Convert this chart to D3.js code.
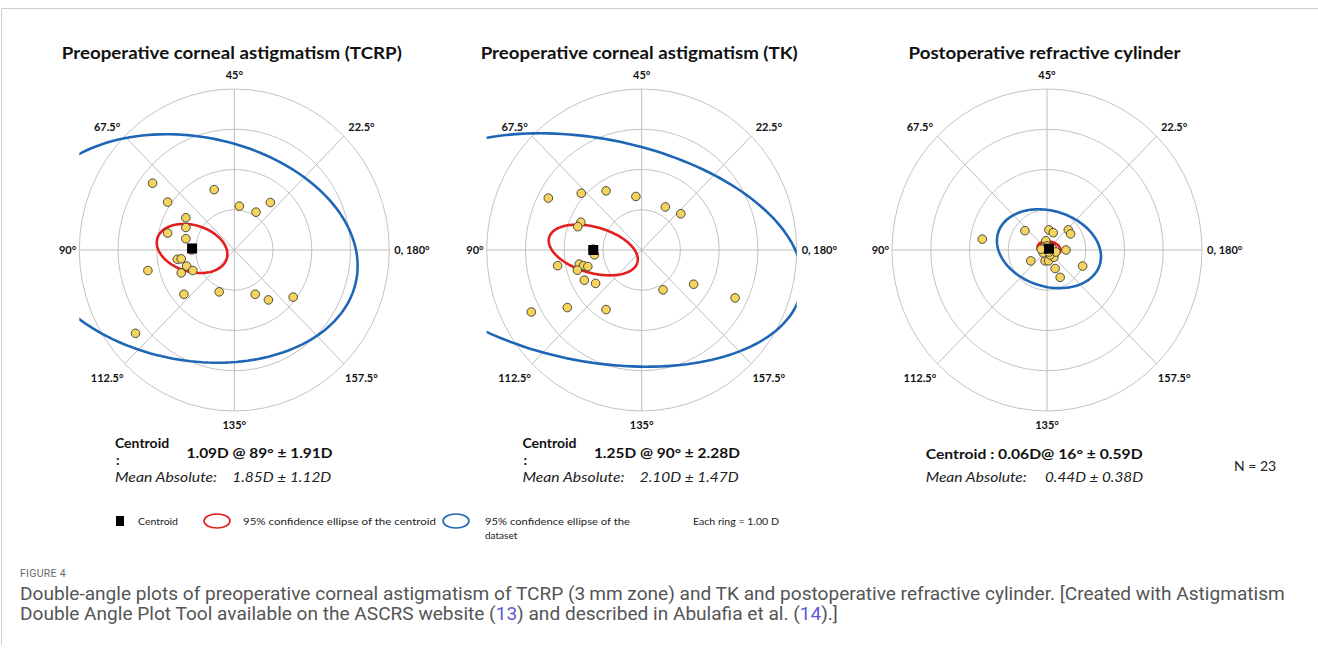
<!DOCTYPE html>
<html>
<head>
<meta charset="utf-8">
<script src="https://cdn.jsdelivr.net/npm/d3@7"></script>
<style>
  body { margin: 0; background: #fff; }
  svg { display: block; }
</style>
</head>
<body>
<svg id="fig" width="1318" height="653"></svg>
<script>
// ---- data (double-angle coordinates in dioptres, x = right, y = up) ----
const plotTitles = ['Preoperative corneal astigmatism (TCRP)', 'Preoperative corneal astigmatism (TK)', 'Postoperative refractive cylinder'];
const axisLabels = ['0, 180°', '22.5°', '45°', '67.5°', '90°', '112.5°', '135°', '157.5°'];
const ringValues = [1, 2, 3, 4];

const tcrpX = [-2.11, -0.52, -1.72, 0.13, 0.93, 0.56, -1.25, -1.25, -1.72, -1.25, -1.47, -1.37, -1.23, -1.07, -1.37, -2.23, -1.30, -0.39, 0.54, 0.88, 1.52, -2.55, -1.10];
const tcrpY = [1.66, 1.50, 1.19, 1.09, 1.18, 0.94, 0.80, 0.56, 0.42, 0.28, -0.23, -0.22, -0.40, -0.51, -0.57, -0.51, -1.10, -1.04, -1.10, -1.24, -1.17, -2.07, 0.00];

const tkX = [-2.41, -1.56, -0.92, -0.15, 0.61, 1.01, -1.57, -1.65, -1.22, -2.17, -1.61, -1.50, -1.39, -1.66, -1.48, -1.19, 0.55, 1.34, 2.41, -2.85, -1.92, -0.92, -1.25];
const tkY = [1.29, 1.41, 1.47, 1.33, 1.07, 0.90, 0.69, 0.58, -0.12, -0.39, -0.35, -0.39, -0.41, -0.50, -0.75, -0.83, -0.99, -0.85, -1.19, -1.54, -1.43, -1.48, 0.02];

const postX = [-0.57, 0.05, 0.16, 0.55, 0.61, -0.03, 0.49, -0.42, -0.05, 0.04, 0.18, 0.21, 0.34, 0.92, -1.67, -0.08, 0.13, 0.08, -0.10, 0.23, 0.00, 0.05, -0.15];
const postY = [0.48, 0.50, 0.43, 0.50, 0.40, 0.23, 0.00, -0.27, -0.27, -0.27, -0.18, -0.46, -0.68, -0.40, 0.27, 0.07, 0.05, -0.12, -0.07, -0.05, 0.10, -0.05, 0.02];

const centroidMag = [1.09, 1.25, 0.06];
const centroidAxis = [89, 90, 16];
// 95% confidence ellipse of the centroid (semi-axes in D, rotation in deg)
const centEllA = [0.93, 1.18, 0.30];
const centEllB = [0.58, 0.57, 0.18];
const centEllRot = [-15, -15, -10];
// 95% confidence ellipse of the dataset
const dataEllA = [4.31, 5.46, 1.37];
const dataEllB = [2.78, 2.77, 0.94];
const dataEllRot = [-10, -10.5, -16];

const centroidValue = ['1.09D @ 89°  ± 1.91D', '1.25D @ 90°  ± 2.28D', 'Centroid : 0.06D@  16°  ± 0.59D'];
const meanAbsValue = ['1.85D ± 1.12D', '2.10D ± 1.47D', '0.44D ± 0.38D'];

// ---- layout ----
const svg = d3.select('#fig');
const FONT = 'Lato, "Open Sans", sans-serif';
const centersX = [234.3, 641.7, 1047];
const centerY = 250;
const RX = 155, RY = 161;

function fit(sel, w) {
    sel.attr('textLength', w).attr('lengthAdjust', 'spacingAndGlyphs');
    return sel;
}

// frame
svg.append('path')
    .attr('d', 'M1.5,645 V8.5 H1318')
    .attr('fill', 'none')
    .attr('stroke', '#cfcfcf');

const seriesX = [tcrpX, tkX, postX];
const seriesY = [tcrpY, tkY, postY];
const titleW = [340, 317, 272];

for (let p = 0; p < 3; p++) {
    let cx = centersX[p];
    let x = d3.scaleLinear().domain([-4, 4]).range([cx - RX, cx + RX]);
    let y = d3.scaleLinear().domain([-4, 4]).range([centerY + RY, centerY - RY]);
    let g = svg.append('g');

    // title
    fit(g.append('text')
        .attr('x', cx - 2.5)
        .attr('y', 59)
        .attr('text-anchor', 'middle')
        .style('font', `bold 17px ${FONT}`)
        .style('fill', '#111')
        .text(plotTitles[p]), titleW[p]);

    // rings
    g.selectAll('.ring')
        .data(ringValues)
        .enter().append('ellipse')
        .attr('cx', x(0))
        .attr('cy', y(0))
        .attr('rx', d => x(d) - x(0))
        .attr('ry', d => y(0) - y(d))
        .attr('fill', 'none')
        .attr('stroke', '#c4c4c4')
        .attr('stroke-width', 1);

    // spokes (every 45 deg of double angle)
    g.selectAll('.spoke')
        .data([0, 45, 90, 135])
        .enter().append('line')
        .attr('x1', d => x(4 * Math.cos(d * Math.PI / 180)))
        .attr('y1', d => y(4 * Math.sin(d * Math.PI / 180)))
        .attr('x2', d => x(-4 * Math.cos(d * Math.PI / 180)))
        .attr('y2', d => y(-4 * Math.sin(d * Math.PI / 180)))
        .attr('stroke', '#bdbdbd')
        .attr('stroke-width', 1);

    // axis labels
    axisLabels.forEach(function (lab, i) {
        let a = i * 45 * Math.PI / 180;
        let lx, ly, anchor = 'middle';
        if (i === 0) { lx = x(4) + 5; ly = y(0); anchor = 'start'; }
        else if (i === 4) { lx = x(-4) - 3; ly = y(0); anchor = 'end'; }
        else if (i === 2) { lx = x(0); ly = y(4) - 14; }
        else if (i === 6) { lx = x(0); ly = y(-4) + 14; }
        else {
            lx = x(4 * 1.16 * Math.cos(a));
            ly = y(4 * 1.08 * Math.sin(a)) + (i > 4 ? 5 : 0);
        }
        g.append('text')
            .attr('x', lx)
            .attr('y', ly)
            .attr('dy', '0.35em')
            .attr('text-anchor', anchor)
            .style('font', `bold 11px ${FONT}`)
            .style('fill', '#111')
            .text(lab);
    });

    // clipping to the plot area (horizontal extent of the outer ring)
    let clipId = 'clip' + p;
    svg.append('clipPath').attr('id', clipId)
        .append('rect')
        .attr('x', x(-4))
        .attr('y', 60)
        .attr('width', x(4) - x(-4))
        .attr('height', 380);

    let cAng = 2 * centroidAxis[p] * Math.PI / 180;
    let ccx = centroidMag[p] * Math.cos(cAng);
    let ccy = centroidMag[p] * Math.sin(cAng);

    function ellipsePath(a, b, rotDeg) {
        let r = rotDeg * Math.PI / 180;
        let pts = d3.range(0, 181).map(function (k) {
            let t = k / 180 * 2 * Math.PI;
            let u = a * Math.cos(t), v = b * Math.sin(t);
            return [ccx + u * Math.cos(r) - v * Math.sin(r), ccy + u * Math.sin(r) + v * Math.cos(r)];
        });
        return d3.line().x(d => x(d[0])).y(d => y(d[1]))(pts);
    }

    let clipped = g.append('g').attr('clip-path', `url(#${clipId})`);
    clipped.append('path')
        .attr('d', ellipsePath(dataEllA[p], dataEllB[p], dataEllRot[p]))
        .attr('fill', 'none')
        .attr('stroke', '#1f66b5')
        .attr('stroke-width', 2.6);
    clipped.append('path')
        .attr('d', ellipsePath(centEllA[p], centEllB[p], centEllRot[p]))
        .attr('fill', 'none')
        .attr('stroke', '#e41d1d')
        .attr('stroke-width', 2.6);

    // data points
    let pts = seriesX[p].map((v, i) => ({ x: v, y: seriesY[p][i] }));
    g.selectAll('.pt')
        .data(pts)
        .enter().append('circle')
        .attr('cx', d => x(d.x))
        .attr('cy', d => y(d.y))
        .attr('r', 4.3)
        .attr('fill', '#f5d45c')
        .attr('stroke', '#3a3a3a')
        .attr('stroke-width', 0.9);

    // centroid
    g.append('rect')
        .attr('x', x(ccx) - 5)
        .attr('y', y(ccy) - 5)
        .attr('width', 10)
        .attr('height', 10)
        .attr('fill', '#000');

    // centroid / mean absolute text
    if (p < 2) {
        let tx = cx - 119.3;
        g.append('text').attr('x', tx).attr('y', 447.5)
            .style('font', `bold 14px ${FONT}`).style('fill', '#111').text('Centroid');
        g.append('text').attr('x', tx + 1).attr('y', 465)
            .style('font', `bold 14px ${FONT}`).style('fill', '#111').text(':');
        fit(g.append('text').attr('x', cx - 47.8).attr('y', 457.5)
            .style('font', `bold 14px ${FONT}`).style('fill', '#111').text(centroidValue[p]), 146);
        fit(g.append('text').attr('x', tx).attr('y', 482)
            .style('font', `italic 14px ${FONT}`).style('fill', '#222').text('Mean Absolute:'), 102);
        fit(g.append('text').attr('x', cx - 2).attr('y', 482)
            .style('font', `italic 14px ${FONT}`).style('fill', '#222').text(meanAbsValue[p]), 99);
    } else {
        fit(g.append('text').attr('x', 925.7).attr('y', 459)
            .style('font', `bold 14px ${FONT}`).style('fill', '#111').text(centroidValue[p]), 217);
        fit(g.append('text').attr('x', 925.7).attr('y', 482)
            .style('font', `italic 14px ${FONT}`).style('fill', '#222').text('Mean Absolute:'), 101);
        fit(g.append('text').attr('x', 1045).attr('y', 482)
            .style('font', `italic 14px ${FONT}`).style('fill', '#222').text(meanAbsValue[p]), 98);
    }
}

svg.append('text').attr('x', 1234).attr('y', 471)
    .style('font', `14px ${FONT}`).style('fill', '#222').text('N = 23');

// legend
let leg = svg.append('g').style('font', `10px ${FONT}`).style('fill', '#222');
leg.append('rect').attr('x', 116).attr('y', 516).attr('width', 8).attr('height', 10).attr('fill', '#000');
fit(leg.append('text').attr('x', 138).attr('y', 524.5).text('Centroid'), 40);
leg.append('ellipse').attr('cx', 217).attr('cy', 521).attr('rx', 13).attr('ry', 7)
    .attr('fill', 'none').attr('stroke', '#e41d1d').attr('stroke-width', 1.6);
fit(leg.append('text').attr('x', 243).attr('y', 524.5).text('95% confidence ellipse of  the centroid'), 193);
leg.append('ellipse').attr('cx', 456).attr('cy', 521).attr('rx', 13).attr('ry', 7)
    .attr('fill', 'none').attr('stroke', '#1f66b5').attr('stroke-width', 1.6);
fit(leg.append('text').attr('x', 485).attr('y', 524.5).text('95% confidence ellipse of the'), 145);
leg.append('text').attr('x', 485).attr('y', 539).text('dataset');
fit(leg.append('text').attr('x', 693).attr('y', 524.5).text('Each ring =  1.00 D'), 86);

// caption
const CAP = 'Roboto, "Open Sans", sans-serif';
svg.append('text').attr('x', 20).attr('y', 577)
    .style('font', `10.5px ${CAP}`).style('fill', '#6a6a6a').style('letter-spacing', '0.3px')
    .text('FIGURE 4');
let line1 = svg.append('text').attr('x', 20).attr('y', 599.5)
    .style('font-family', CAP).style('font-size', '15px').style('fill', '#555')
    .text('Double-angle plots of preoperative corneal astigmatism of TCRP (3\u2009mm zone) and TK and postoperative refractive cylinder. [Created with Astigmatism');
let capSize = 15 * 1265 / line1.node().getComputedTextLength();
line1.style('font-size', capSize + 'px');
let line2 = svg.append('text').attr('x', 20).attr('y', 620)
    .style('font-family', CAP).style('font-size', capSize + 'px').style('fill', '#555');
line2.append('tspan').text('Double Angle Plot Tool available on the ASCRS website (');
line2.append('tspan').style('fill', '#5b5bd6').text('13');
line2.append('tspan').text(') and described in Abulafia et al. (');
line2.append('tspan').style('fill', '#5b5bd6').text('14');
line2.append('tspan').text(').]');
</script>
</body>
</html>
